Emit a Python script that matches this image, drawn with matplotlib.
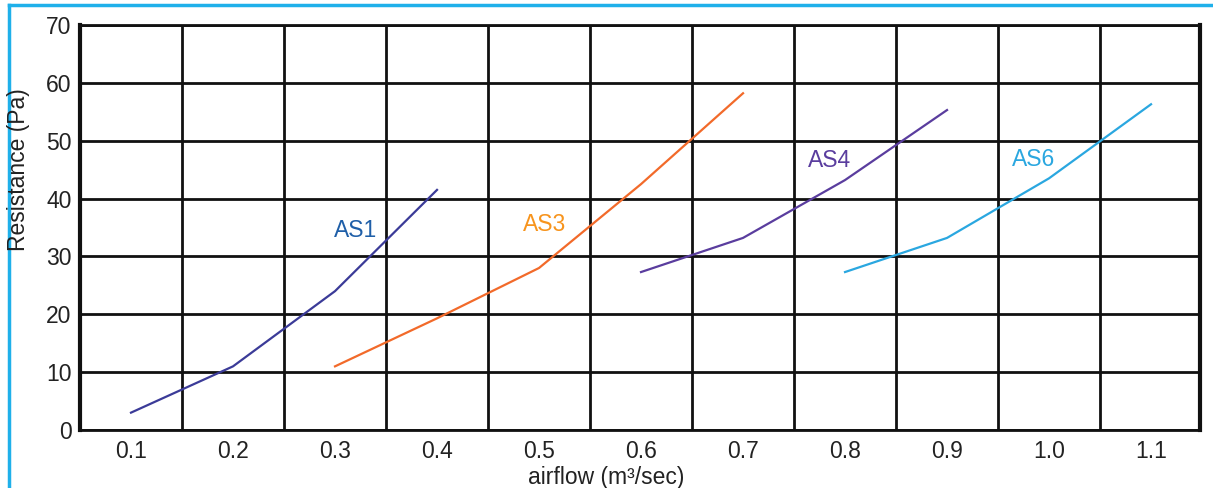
import matplotlib
matplotlib.use("Agg")
import matplotlib.pyplot as plt
from matplotlib.lines import Line2D
from matplotlib.ticker import FixedLocator

plt.rcParams['font.family'] = ['Liberation Sans', 'DejaVu Sans']

# Data
as1_x = [0.1, 0.2, 0.3, 0.4]
as1_y = [3, 11, 24, 41.5]
as3_x = [0.3, 0.4, 0.5, 0.6, 0.7]
as3_y = [11, 19.3, 28, 42.5, 58.2]
as4_x = [0.6, 0.7, 0.8, 0.9]
as4_y = [27.3, 33.2, 43.2, 55.3]
as6_x = [0.8, 0.9, 1.0, 1.1]
as6_y = [27.3, 33.2, 43.5, 56.3]

x_ticks = [0.1, 0.2, 0.3, 0.4, 0.5, 0.6, 0.7, 0.8, 0.9, 1.0, 1.1]
x_tick_labels = ["0.1", "0.2", "0.3", "0.4", "0.5", "0.6", "0.7", "0.8", "0.9", "1.0", "1.1"]
x_grid = [0.15, 0.25, 0.35, 0.45, 0.55, 0.65, 0.75, 0.85, 0.95, 1.05]
y_ticks = [0, 10, 20, 30, 40, 50, 60, 70]

labels = ["AS1", "AS3", "AS4", "AS6"]
label_pos = [(0.32, 34.5), (0.505, 35.6), (0.785, 46.6), (0.985, 46.8)]
line_colors = ["#3b3b98", "#f26a2a", "#5a3d9e", "#2aa7e0"]
label_colors = ["#1f5fa8", "#f7941d", "#5a3d9e", "#2aa7e0"]

fig = plt.figure(figsize=(12.13, 4.88), dpi=100)
ax = fig.add_axes([80/1213, 1-430/488, 1120/1213, 405/488])

series = [(as1_x, as1_y), (as3_x, as3_y), (as4_x, as4_y), (as6_x, as6_y)]
for (xs, ys), c in zip(series, line_colors):
    ax.plot(xs, ys, color=c, lw=1.6, zorder=3)
for lab, (lx, ly), c in zip(labels, label_pos, label_colors):
    ax.text(lx, ly, lab, color=c, fontsize=16.5, ha='center', va='center', zorder=4)

ax.set_xlim(0.05, 1.148)
ax.set_ylim(0, 70)
ax.set_xticks(x_ticks)
ax.set_xticklabels(x_tick_labels)
ax.xaxis.set_minor_locator(FixedLocator(x_grid))
ax.set_yticks(y_ticks)
ax.tick_params(axis='both', which='both', length=0, labelsize=16.5, colors='#222222')
ax.tick_params(axis='x', pad=7)
ax.tick_params(axis='y', pad=6)
ax.grid(False)
ax.grid(True, which='minor', axis='x', color='#111111', lw=2)
ax.grid(True, which='major', axis='y', color='#111111', lw=2)
for s in ['left', 'right']:
    ax.spines[s].set_linewidth(3)
for s in ['top', 'bottom']:
    ax.spines[s].set_linewidth(2)
for s in ax.spines.values():
    s.set_color('#111111')

# light blue frame lines (top & left)
fig.add_artist(Line2D([9/1213, 1], [1-5/488, 1-5/488], color='#1fb0ea', lw=2.5, transform=fig.transFigure))
fig.add_artist(Line2D([9/1213, 9/1213], [0, 1-5/488], color='#1fb0ea', lw=2.5, transform=fig.transFigure))

fig.text(19/1213, 1-170/488, "Resistance (Pa)", rotation=90, fontsize=16.5,
         color='#222222', ha='center', va='center')
fig.text(606/1213, 1-484/488, "airflow (m³/sec)", fontsize=16.5,
         color='#222222', ha='center', va='baseline')

fig.savefig("out.png", dpi=100)
